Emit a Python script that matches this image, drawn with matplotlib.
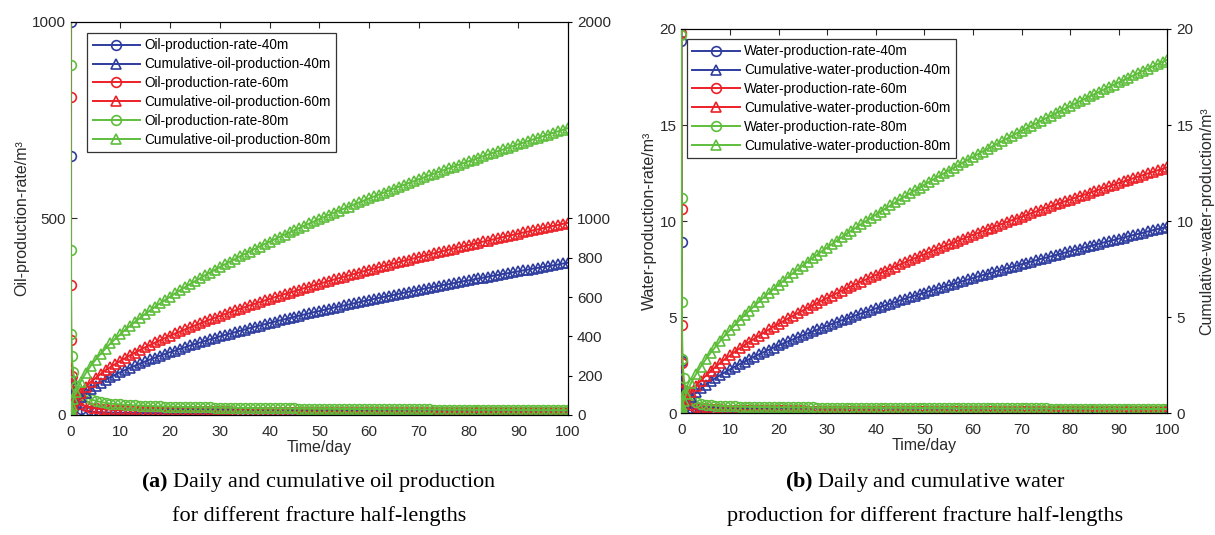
import matplotlib.pyplot as plt

plt.rcParams['font.family'] = ['Liberation Sans', 'DejaVu Sans']
plt.rcParams['mathtext.fontset'] = 'custom'
plt.rcParams['mathtext.rm'] = 'Liberation Serif'
plt.rcParams['mathtext.bf'] = 'Liberation Serif:bold'

# time axis: a few very early points, then one point per day
t_early = [0, 0.01, 0.05, 0.1, 0.2, 0.5]
days = list(range(1, 101))
time = t_early + days

# ---- (a) oil ----
oil_rate_40 = [1000, 660, 90, 80, 60, 40,
    25, 15, 11, 9, 8, 7.2, 6.6, 6.2, 5.9, 5.6,
    5.4, 5.2, 5.1, 5.0, 4.9, 4.8, 4.7, 4.6, 4.5, 4.5,
    4.4, 4.4, 4.3, 4.3, 4.2, 4.2, 4.1, 4.1, 4.1, 4.0,
    4.0, 4.0, 3.9, 3.9, 3.9, 3.8, 3.8, 3.8, 3.8, 3.7,
    3.7, 3.7, 3.7, 3.6, 3.6, 3.6, 3.6, 3.6, 3.5, 3.5,
    3.5, 3.5, 3.5, 3.4, 3.4, 3.4, 3.4, 3.4, 3.4, 3.3,
    3.3, 3.3, 3.3, 3.3, 3.3, 3.2, 3.2, 3.2, 3.2, 3.2,
    3.2, 3.2, 3.1, 3.1, 3.1, 3.1, 3.1, 3.1, 3.1, 3.1,
    3.0, 3.0, 3.0, 3.0, 3.0, 3.0, 3.0, 3.0, 3.0, 3.0,
    2.9, 2.9, 2.9, 2.9, 2.9, 2.9, 2.9, 2.9, 2.9, 2.9]
oil_rate_60 = [1500, 810, 330, 190, 100, 60,
    40, 28, 22, 19, 17, 15.5, 14.5, 13.7, 13.0, 12.5,
    12.1, 11.8, 11.5, 11.2, 11.0, 10.8, 10.6, 10.4, 10.3, 10.1,
    10.0, 9.9, 9.8, 9.7, 9.6, 9.5, 9.4, 9.3, 9.2, 9.1,
    9.1, 9.0, 8.9, 8.9, 8.8, 8.7, 8.7, 8.6, 8.6, 8.5,
    8.5, 8.4, 8.4, 8.3, 8.3, 8.2, 8.2, 8.1, 8.1, 8.0,
    8.0, 7.9, 7.9, 7.9, 7.8, 7.8, 7.7, 7.7, 7.7, 7.6,
    7.6, 7.6, 7.5, 7.5, 7.5, 7.4, 7.4, 7.4, 7.3, 7.3,
    7.3, 7.2, 7.2, 7.2, 7.2, 7.1, 7.1, 7.1, 7.0, 7.0,
    7.0, 7.0, 6.9, 6.9, 6.9, 6.9, 6.8, 6.8, 6.8, 6.8,
    6.7, 6.7, 6.7, 6.7, 6.6, 6.6, 6.6, 6.6, 6.5, 6.5]
oil_rate_80 = [2500, 890, 420, 205, 150, 110,
    75, 55, 46, 40, 36, 33, 31, 29, 28, 27,
    26, 25, 24.5, 24, 23.5, 23, 22.5, 22, 21.6, 21.2,
    20.9, 20.6, 20.3, 20.0, 19.8, 19.6, 19.4, 19.2, 19.0, 18.8,
    18.6, 18.4, 18.2, 18.1, 17.9, 17.8, 17.6, 17.5, 17.3, 17.2,
    17.1, 16.9, 16.8, 16.7, 16.6, 16.4, 16.3, 16.2, 16.1, 16.0,
    15.9, 15.8, 15.7, 15.6, 15.5, 15.4, 15.3, 15.2, 15.1, 15.0,
    14.9, 14.8, 14.7, 14.6, 14.6, 14.5, 14.4, 14.3, 14.2, 14.1,
    14.1, 14.0, 13.9, 13.8, 13.8, 13.7, 13.6, 13.5, 13.5, 13.4,
    13.3, 13.3, 13.2, 13.1, 13.1, 13.0, 12.9, 12.9, 12.8, 12.7,
    12.7, 12.6, 12.6, 12.5, 12.4, 12.4, 12.3, 12.3, 12.2, 12.1]

oil_cum_40 = [0, 5, 11, 17, 26, 42,
    62, 90, 113, 132, 149, 165, 180, 193, 206, 218,
    230, 241, 252, 263, 273, 283, 292, 302, 311, 320,
    328, 337, 345, 354, 362, 369, 377, 385, 392, 400,
    407, 414, 421, 428, 435, 442, 449, 455, 462, 468,
    475, 481, 487, 493, 500, 506, 512, 518, 524, 529,
    535, 541, 547, 552, 558, 563, 569, 574, 580, 585,
    591, 596, 601, 606, 611, 617, 622, 627, 632, 637,
    642, 647, 652, 657, 662, 666, 671, 676, 681, 685,
    690, 695, 699, 704, 709, 713, 718, 722, 727, 731,
    736, 740, 745, 749, 753, 758, 762, 766, 771, 775]
oil_cum_60 = [0, 6, 14, 22, 33, 53,
    78, 114, 142, 167, 188, 208, 227, 244, 260, 276,
    290, 305, 318, 332, 345, 357, 369, 381, 392, 404,
    415, 425, 436, 446, 456, 466, 476, 486, 495, 504,
    514, 523, 532, 540, 549, 558, 566, 574, 583, 591,
    599, 607, 615, 623, 630, 638, 646, 653, 661, 668,
    675, 683, 690, 697, 704, 711, 718, 725, 732, 739,
    745, 752, 759, 765, 772, 778, 785, 791, 797, 804,
    810, 816, 823, 829, 835, 841, 847, 853, 859, 865,
    871, 877, 883, 888, 894, 900, 906, 912, 917, 923,
    929, 934, 940, 945, 951, 956, 962, 967, 973, 978]
oil_cum_80 = [0, 8, 20, 33, 48, 79,
    116, 170, 212, 249, 281, 311, 338, 364, 388, 411,
    434, 455, 475, 495, 514, 533, 551, 569, 586, 602,
    619, 635, 651, 666, 681, 696, 711, 725, 739, 753,
    767, 780, 793, 807, 820, 832, 845, 857, 870, 882,
    894, 906, 918, 929, 941, 952, 964, 975, 986, 997,
    1008, 1019, 1030, 1040, 1051, 1061, 1072, 1082, 1092, 1102,
    1112, 1122, 1132, 1142, 1152, 1162, 1171, 1181, 1190, 1200,
    1209, 1219, 1228, 1237, 1246, 1255, 1264, 1273, 1282, 1291,
    1300, 1309, 1318, 1326, 1335, 1344, 1352, 1361, 1369, 1378,
    1386, 1394, 1403, 1411, 1419, 1427, 1436, 1444, 1452, 1460]

# ---- (b) water ----
water_rate_40 = [25, 19.4, 8.9, 2.7, 1.2, 0.8,
    0.50, 0.26, 0.17, 0.12, 0.10, 0.09, 0.08, 0.07, 0.07, 0.06,
    0.06, 0.06, 0.06, 0.06, 0.06, 0.06, 0.06, 0.06, 0.06, 0.06,
    0.05, 0.05, 0.05, 0.05, 0.05, 0.05, 0.05, 0.05, 0.05, 0.05,
    0.05, 0.05, 0.05, 0.05, 0.05, 0.05, 0.05, 0.05, 0.05, 0.05,
    0.05, 0.05, 0.05, 0.05, 0.05, 0.04, 0.04, 0.04, 0.04, 0.04,
    0.04, 0.04, 0.04, 0.04, 0.04, 0.04, 0.04, 0.04, 0.04, 0.04,
    0.04, 0.04, 0.04, 0.04, 0.04, 0.04, 0.04, 0.04, 0.04, 0.04,
    0.04, 0.04, 0.04, 0.04, 0.04, 0.03, 0.03, 0.03, 0.03, 0.03,
    0.03, 0.03, 0.03, 0.03, 0.03, 0.03, 0.03, 0.03, 0.03, 0.03,
    0.03, 0.03, 0.03, 0.03, 0.03, 0.03, 0.03, 0.03, 0.03, 0.03]
water_rate_60 = [30, 19.8, 10.6, 4.6, 2.6, 1.2,
    0.70, 0.42, 0.32, 0.27, 0.24, 0.22, 0.20, 0.19, 0.18, 0.17,
    0.17, 0.16, 0.16, 0.15, 0.15, 0.15, 0.15, 0.14, 0.14, 0.14,
    0.14, 0.14, 0.14, 0.14, 0.14, 0.13, 0.13, 0.13, 0.13, 0.13,
    0.13, 0.13, 0.13, 0.13, 0.13, 0.13, 0.13, 0.13, 0.13, 0.13,
    0.12, 0.12, 0.12, 0.12, 0.12, 0.12, 0.12, 0.12, 0.12, 0.12,
    0.12, 0.12, 0.12, 0.12, 0.12, 0.12, 0.12, 0.12, 0.12, 0.12,
    0.12, 0.12, 0.12, 0.12, 0.12, 0.11, 0.11, 0.11, 0.11, 0.11,
    0.11, 0.11, 0.11, 0.11, 0.11, 0.11, 0.11, 0.11, 0.11, 0.11,
    0.11, 0.11, 0.11, 0.11, 0.11, 0.10, 0.10, 0.10, 0.10, 0.10,
    0.10, 0.10, 0.10, 0.10, 0.10, 0.10, 0.10, 0.10, 0.10, 0.10]
water_rate_80 = [60, 19.7, 11.2, 5.8, 2.8, 1.8,
    1.0, 0.70, 0.56, 0.49, 0.44, 0.41, 0.39, 0.37, 0.36, 0.35,
    0.34, 0.33, 0.33, 0.32, 0.32, 0.31, 0.31, 0.31, 0.30, 0.30,
    0.30, 0.30, 0.29, 0.29, 0.29, 0.29, 0.29, 0.28, 0.28, 0.28,
    0.28, 0.28, 0.28, 0.28, 0.28, 0.27, 0.27, 0.27, 0.27, 0.27,
    0.27, 0.27, 0.27, 0.27, 0.27, 0.26, 0.26, 0.26, 0.26, 0.26,
    0.26, 0.26, 0.26, 0.26, 0.26, 0.25, 0.25, 0.25, 0.25, 0.25,
    0.25, 0.25, 0.25, 0.25, 0.25, 0.24, 0.24, 0.24, 0.24, 0.24,
    0.24, 0.24, 0.24, 0.24, 0.24, 0.23, 0.23, 0.23, 0.23, 0.23,
    0.23, 0.23, 0.23, 0.23, 0.23, 0.22, 0.22, 0.22, 0.22, 0.22,
    0.22, 0.22, 0.22, 0.22, 0.22, 0.21, 0.21, 0.21, 0.21, 0.21]

water_cum_40 = [0, 0.05, 0.09, 0.12, 0.19, 0.34,
    0.53, 0.83, 1.07, 1.28, 1.47, 1.65, 1.82, 1.98, 2.13, 2.27,
    2.41, 2.55, 2.68, 2.81, 2.94, 3.06, 3.18, 3.29, 3.41, 3.52,
    3.63, 3.74, 3.84, 3.95, 4.05, 4.15, 4.25, 4.35, 4.45, 4.54,
    4.64, 4.73, 4.83, 4.92, 5.01, 5.10, 5.19, 5.27, 5.36, 5.45,
    5.53, 5.62, 5.70, 5.78, 5.87, 5.95, 6.03, 6.11, 6.19, 6.27,
    6.35, 6.43, 6.50, 6.58, 6.66, 6.73, 6.81, 6.88, 6.96, 7.03,
    7.11, 7.18, 7.25, 7.32, 7.40, 7.47, 7.54, 7.61, 7.68, 7.75,
    7.82, 7.89, 7.96, 8.03, 8.09, 8.16, 8.23, 8.30, 8.36, 8.43,
    8.50, 8.56, 8.63, 8.69, 8.76, 8.82, 8.89, 8.95, 9.01, 9.08,
    9.14, 9.21, 9.27, 9.33, 9.39, 9.46, 9.52, 9.58, 9.64, 9.70]
water_cum_60 = [0, 0.07, 0.12, 0.16, 0.26, 0.45,
    0.70, 1.09, 1.41, 1.68, 1.94, 2.17, 2.40, 2.61, 2.81, 3.00,
    3.19, 3.37, 3.54, 3.71, 3.87, 4.03, 4.19, 4.35, 4.50, 4.64,
    4.79, 4.93, 5.07, 5.21, 5.34, 5.48, 5.61, 5.74, 5.87, 5.99,
    6.12, 6.24, 6.37, 6.49, 6.61, 6.73, 6.84, 6.96, 7.07, 7.19,
    7.30, 7.41, 7.52, 7.63, 7.74, 7.85, 7.96, 8.06, 8.17, 8.27,
    8.37, 8.48, 8.58, 8.68, 8.78, 8.88, 8.98, 9.08, 9.18, 9.28,
    9.37, 9.47, 9.57, 9.66, 9.76, 9.85, 9.95, 10.04, 10.13, 10.22,
    10.32, 10.41, 10.50, 10.59, 10.68, 10.77, 10.86, 10.95, 11.03, 11.12,
    11.21, 11.30, 11.38, 11.47, 11.56, 11.64, 11.73, 11.81, 11.89, 11.98,
    12.06, 12.15, 12.23, 12.31, 12.39, 12.48, 12.56, 12.64, 12.72, 12.80]
water_cum_80 = [0, 0.10, 0.18, 0.23, 0.36, 0.65,
    1.01, 1.57, 2.02, 2.42, 2.79, 3.13, 3.44, 3.75, 4.04, 4.31,
    4.58, 4.84, 5.09, 5.33, 5.57, 5.80, 6.03, 6.25, 6.46, 6.68,
    6.88, 7.09, 7.29, 7.49, 7.68, 7.88, 8.07, 8.25, 8.44, 8.62,
    8.80, 8.98, 9.15, 9.33, 9.50, 9.67, 9.84, 10.00, 10.17, 10.33,
    10.49, 10.65, 10.81, 10.97, 11.13, 11.28, 11.44, 11.59, 11.74, 11.89,
    12.04, 12.19, 12.34, 12.48, 12.63, 12.77, 12.91, 13.06, 13.20, 13.34,
    13.48, 13.62, 13.75, 13.89, 14.03, 14.16, 14.30, 14.43, 14.57, 14.70,
    14.83, 14.96, 15.09, 15.22, 15.35, 15.48, 15.61, 15.74, 15.86, 15.99,
    16.12, 16.24, 16.36, 16.49, 16.61, 16.73, 16.86, 16.98, 17.10, 17.22,
    17.34, 17.46, 17.58, 17.70, 17.82, 17.93, 18.05, 18.17, 18.29, 18.40]

lengths = ["40m", "60m", "80m"]
colors = ["#2E3C9E", "#EC2027", "#5EBE3C"]
txt = "#2a2a2a"


def panel(ax, axr, rates, cums, rate_name, cum_name):
    handles = []
    for r, c, L, col in zip(rates, cums, lengths, colors):
        h1, = ax.plot(time, r, color=col, lw=1.4, marker="o", ms=7,
                      mfc="none", mec=col, mew=1.2, label=f"{rate_name}-{L}")
        h2, = axr.plot(time, c, color=col, lw=1.4, marker="^", ms=7,
                       mfc="none", mec=col, mew=1.2, label=f"{cum_name}-{L}")
        handles += [h1, h2]
    # let the vertical start-up line at t=0 show over the left spine
    ax.spines["left"].set_zorder(1)
    axr.spines["left"].set_visible(False)
    ax.set_xlim(0, 100)
    ax.set_xticks(range(0, 101, 10))
    ax.tick_params(direction="in", top=True, length=4, labelsize=11,
                   colors=txt, labelcolor=txt)
    ax.tick_params(axis="x", pad=7)
    axr.tick_params(direction="out", length=3, labelsize=11, labelcolor=txt)
    ax.set_xlabel("Time/day", fontsize=11.5, color=txt, labelpad=1)
    leg = axr.legend(handles=handles, loc="upper left", fontsize=9.8,
                     numpoints=1, handlelength=3.5, handletextpad=0.3,
                     labelspacing=0.36, borderpad=0.4, fancybox=False,
                     edgecolor="#333333", framealpha=1, borderaxespad=0)
    leg.get_frame().set_linewidth(0.9)
    return leg


fig = plt.figure(figsize=(12.15, 5.35), dpi=100)

# (a) oil
ax1 = fig.add_axes([0.0582, 0.2243, 0.4093, 0.7346])
ax1r = ax1.twinx()
leg1 = panel(ax1, ax1r, [oil_rate_40, oil_rate_60, oil_rate_80],
             [oil_cum_40, oil_cum_60, oil_cum_80],
             "Oil-production-rate", "Cumulative-oil-production")
leg1.set_bbox_to_anchor((0.033, 0.972))
ax1.set_ylim(0, 1000)
ax1.set_yticks([0, 500, 1000])
ax1r.set_ylim(0, 2000)
ax1r.set_yticks([0, 200, 400, 600, 800, 1000, 2000])
ax1.set_ylabel("Oil-production-rate/m³", fontsize=11.5, color=txt, labelpad=2)

# (b) water
ax2 = fig.add_axes([0.5608, 0.2280, 0.4, 0.7178])
ax2r = ax2.twinx()
leg2 = panel(ax2, ax2r, [water_rate_40, water_rate_60, water_rate_80],
             [water_cum_40, water_cum_60, water_cum_80],
             "Water-production-rate", "Cumulative-water-production")
leg2.set_bbox_to_anchor((0.0115, 0.974))
ax2.set_ylim(0, 20)
ax2.set_yticks([0, 5, 10, 15, 20])
ax2r.set_ylim(0, 20)
ax2r.set_yticks([0, 5, 10, 15, 20])
ax2.set_ylabel("Water-production-rate/m³", fontsize=11.5, color=txt, labelpad=2)
ax2r.set_ylabel("Cumulative-water-production/m³", fontsize=11.5, color=txt,
                labelpad=4)

# captions
cap = dict(ha="center", va="center", fontsize=16, family="Liberation Serif")
fig.text(319 / 1215, 1 - 482 / 535,
         r"$\mathbf{(a)}$ Daily and cumulative oil production", **cap)
fig.text(319 / 1215, 1 - 516 / 535, "for different fracture half-lengths", **cap)
fig.text(925 / 1215, 1 - 482 / 535,
         r"$\mathbf{(b)}$ Daily and cumulative water", **cap)
fig.text(925 / 1215, 1 - 516 / 535,
         "production for different fracture half-lengths", **cap)

fig.savefig("out.png", dpi=100)
